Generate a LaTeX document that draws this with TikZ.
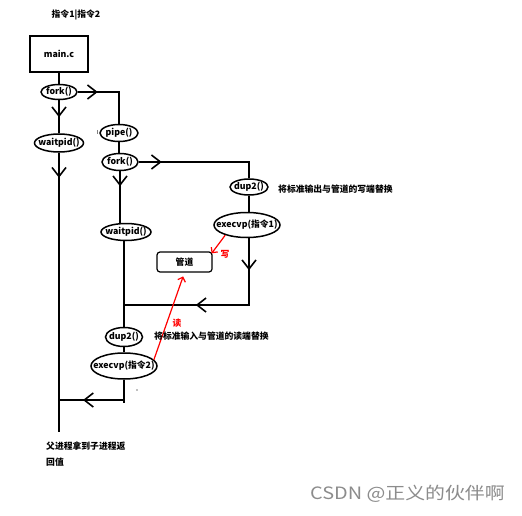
\documentclass[tikz,border=0pt]{standalone}
\usepackage{fontspec}
\setmainfont{Noto Sans CJK SC}
\usetikzlibrary{shapes.geometric,arrows.meta,decorations.markings}
\newcommand\et[1]{\raisebox{-0.33em}[0pt][0pt]{\makebox[0pt]{#1}}}
\tikzset{
  chevtip/.tip={Straight Barb[length=9pt,width=14pt,line width=1.6pt]},
  chev/.style={postaction={decorate,decoration={markings,mark=at position #1 with {\arrow{chevtip}}}}},
  ln/.style={line width=1.8pt,black},
  ell/.style={ellipse,draw,line width=1.5pt,inner sep=0pt,font=\fontsize{8.8}{10}\selectfont\bfseries},
  txt/.style={inner sep=0pt,font=\fontsize{8.8}{10}\selectfont\bfseries},
  rd/.style={red,line width=1.2pt,-{Straight Barb[length=4pt,width=8pt,line width=1.2pt]}},
  rdtxt/.style={inner sep=0pt,text=red,font=\fontsize{8.8}{10}\selectfont\bfseries}
}
\begin{document}
\begin{tikzpicture}[x=1pt,y=-1pt]
\useasboundingbox[fill=white] (0,0) rectangle (522,516);
% title
\node[txt] (title) at (76,15) {指令1|指令2};
% nodes
\node[draw,line width=1.8pt,minimum width=58pt,minimum height=36pt,inner sep=0pt,font=\fontsize{8.8}{10}\selectfont\bfseries] (mainc) at (59,54) {main.c};
\node[ell,minimum width=36pt,minimum height=15pt] (f1) at (59,92) {\et{fork()}};
\node[ell,minimum width=49pt,minimum height=18pt] (w1) at (59,143) {\et{waitpid()}};
\node[ell,minimum width=38pt,minimum height=17pt] (pipe) at (119,133) {\et{pipe()}};
\node[ell,minimum width=36pt,minimum height=17pt] (f2) at (120,162) {\et{fork()}};
\node[ell,minimum width=50pt,minimum height=17pt] (w2) at (126,232) {\et{waitpid()}};
\node[ell,minimum width=38pt,minimum height=16pt] (d1) at (249,187) {\et{dup2()}};
\node[ell,minimum width=66pt,minimum height=25pt] (e1) at (247,225) {\et{execvp(指令1)}};
\node[ell,minimum width=37pt,minimum height=19pt] (d2) at (124,337) {\et{dup2()}};
\node[ell,minimum width=66pt,minimum height=26pt] (e2) at (124,366) {\et{execvp(指令2)}};
\node[draw,line width=1.2pt,rounded corners=3pt,minimum width=55pt,minimum height=20pt,inner sep=0pt,font=\fontsize{8.8}{10}\selectfont\bfseries] (gd) at (184.5,262) {管道};
% coordinates
\coordinate (bl) at (59,432);
\coordinate (j1) at (124,305);
\coordinate (j2) at (124,400);
\coordinate (j2b) at (124,403);
% connectors
\draw[ln] (mainc.south) -- (mainc.south |- f1.north);
\draw[ln,chev=20pt] (f1.east) -- (f1.east -| pipe.north) -- (pipe.north);
\draw[ln,chev=17pt] (f1.south) -- (w1.north);
\draw[ln,chev=25pt] (w1.south) -- (bl);
\draw[ln] (pipe.south) -- (pipe.south |- f2.north);
\draw[ln,chev=23pt] (f2.east) -- (f2.east -| d1.north) -- (d1.north);
\draw[ln,chev=15pt] (f2.south) -- (f2.south |- w2.north);
\draw[ln] (d2.north |- w2.south) -- (d2.north);
\draw[ln] (d1.south) -- (d1.south |- e1.north);
\draw[ln,chev=32pt,chev=120pt] (e1.south -| d1.south) -- (d1.south |- j1) -- (j1);
\draw[ln] (d2.south) -- (e2.north);
\draw[ln] (e2.south) -- (j2b);
\draw[ln,chev=41pt] (j2) -- (j2 -| bl);
% red arrows
\draw[rd] (e1.205) -- ([shift={(-1,2)}]gd.north east);
\draw[rd,shorten >=4pt] (e2.12) -- (gd.south);
\node[rdtxt] (xie) at (225,254) {写};
\node[rdtxt] (du) at (177,323) {读};
% descriptions
\node[txt,anchor=west] (t1) at (278,189) {将标准输出与管道的写端替换};
\node[txt,anchor=west] (t2) at (154,336) {将标准输入与管道的读端替换};
\node[txt,anchor=west] (t3) at (46,446) {父进程拿到子进程返};
\node[txt,anchor=west] (t4) at (46,462) {回值};
% stray marks
\fill[gray] (137,390) circle (0.8pt);
\draw[gray,line width=0.8pt] (97,130) -- (97,134);
% watermark
\node[inner sep=0pt,anchor=east,text=black!45,xscale=1.17,font=\fontsize{17}{19}\selectfont] (wm) at (505,494) {CSDN @正义的伙伴啊};
\end{tikzpicture}
\end{document}
